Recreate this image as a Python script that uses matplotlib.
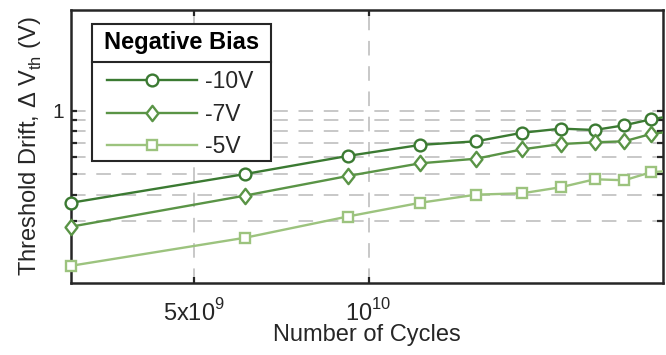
import numpy as np
import matplotlib
matplotlib.use("Agg")
import matplotlib.pyplot as plt
import matplotlib._mathtext as mathtext_impl
from matplotlib.lines import Line2D
from matplotlib.patches import Rectangle
from matplotlib.path import Path
from matplotlib.ticker import FixedLocator, FixedFormatter, NullLocator

plt.rcParams["font.family"] = ["Liberation Sans", "DejaVu Sans"]
plt.rcParams["mathtext.fontset"] = "custom"
plt.rcParams["mathtext.rm"] = "Liberation Sans"
plt.rcParams["mathtext.it"] = "Liberation Sans:italic"
plt.rcParams["mathtext.bf"] = "Liberation Sans:bold"
plt.rcParams["mathtext.default"] = "regular"

# Raise superscripts / drop subscripts a little more, TeX-label style
_fc = getattr(mathtext_impl, "FontConstantsBase", None)
if _fc is not None:
    if hasattr(_fc, "sup1"):
        _fc.sup1 = 0.9
    if hasattr(_fc, "sub1"):
        _fc.sub1 = 0.45

# Stress cycles and measured threshold-voltage drift (V)
cycles = [3.07e9, 6.13e9, 9.20e9, 1.227e10, 1.533e10, 1.840e10,
          2.147e10, 2.453e10, 2.760e10, 3.067e10, 3.373e10]
drift_10v = [0.366, 0.501, 0.610, 0.688, 0.716, 0.786, 0.822, 0.810, 0.853, 0.910, 0.950]
drift_7v = [0.282, 0.396, 0.490, 0.563, 0.592, 0.656, 0.695, 0.708, 0.716, 0.776, 0.800]
drift_5v = [0.184, 0.250, 0.315, 0.366, 0.400, 0.406, 0.434, 0.473, 0.468, 0.511, 0.520]
series_labels = ["-10V", "-7V", "-5V"]
legend_title = "Negative Bias"

x_ticks = [5e9, 1e10]
x_tick_labels = ["5x10$^{9}$", "10$^{10}$"]
y_ticks = [0.3, 0.4, 0.5, 0.6, 0.7, 0.8, 0.9, 1.0]
y_tick_labels = ["", "", "", "", "", "", "", "1"]

W, H = 666, 355
TEXT = "#262626"

fig = plt.figure(figsize=(W / 100, H / 100), dpi=100)
ax = fig.add_axes([71 / W, 1 - 283.3 / H, (663.3 - 71) / W, (283.3 - 10) / H])
ax.set_xscale("log")
ax.set_yscale("log")
ax.set_xlim(3.07e9, 3.22e10)
ax.set_ylim(0.152, 3.0)

diamond = Path([(0, 1), (0.78, 0), (0, -1), (-0.78, 0), (0, 1)],
               [Path.MOVETO, Path.LINETO, Path.LINETO, Path.LINETO, Path.CLOSEPOLY])

styles = [
    (drift_10v, "#3b7a32", "o", 8.5),
    (drift_7v, "#5a9446", diamond, 11),
    (drift_5v, "#9cc37e", "s", 7.0),
]

x = np.array(cycles)
inside = x <= ax.get_xlim()[1]
handles = []
for (vals, color, marker, ms), label in zip(styles, series_labels):
    y = np.array(vals)
    ax.plot(x, y, color=color, lw=1.7, zorder=3)
    ax.plot(x[inside], y[inside], linestyle="none", marker=marker, ms=ms,
            mfc="white", mec=color, mew=1.7, clip_on=False, zorder=4)
    handles.append(Line2D([], [], color=color, lw=1.7, marker=marker, ms=ms,
                          mfc="white", mec=color, mew=1.7, label=label))

# Axes, ticks and grid
ax.xaxis.set_major_locator(FixedLocator(x_ticks))
ax.xaxis.set_major_formatter(FixedFormatter(x_tick_labels))
ax.xaxis.set_minor_locator(NullLocator())
ax.yaxis.set_major_locator(FixedLocator(y_ticks))
ax.yaxis.set_major_formatter(FixedFormatter(y_tick_labels))
ax.yaxis.set_minor_locator(NullLocator())

ax.set_axisbelow(True)
ax.grid(True, which="major", color="#c8c8c8", lw=1.4, linestyle=(0, (7.5, 5.5)))

ax.tick_params(axis="both", which="major", direction="in", length=4.5, width=1.6,
               color=TEXT, labelcolor=TEXT, top=True, right=True)
ax.tick_params(axis="x", labelsize=17, pad=11)
ax.tick_params(axis="y", labelsize=15, pad=5)
for s in ax.spines.values():
    s.set_linewidth(1.8)
    s.set_color(TEXT)

ax.set_xlabel("Number of Cycles", fontsize=17, color=TEXT)
ax.xaxis.set_label_coords(0.5, -0.148)
ax.set_ylabel("Threshold Drift, Δ V$_{th}$ (V)", fontsize=17, color=TEXT)
ax.yaxis.set_label_coords(-0.045, 0.5)

# Legend: framed box with a titled header
frame = Rectangle((92 / W, 1 - 161 / H), (271 - 92) / W, (161 - 24.3) / H,
                  transform=fig.transFigure, facecolor="white", edgecolor=TEXT,
                  lw=1.5, zorder=5, clip_on=False)
ax.add_artist(frame)
divider = Line2D([92 / W, 271 / W], [1 - 62 / H, 1 - 62 / H], transform=fig.transFigure,
                 color=TEXT, lw=1.5, zorder=6, clip_on=False)
ax.add_artist(divider)
ax.text(181.5 / W, 1 - 42.5 / H, legend_title, transform=fig.transFigure,
        ha="center", va="center", fontsize=17, fontweight="bold", color="black",
        zorder=6, clip_on=False)

leg = ax.legend(handles=handles, loc="center left",
                bbox_to_anchor=(106.7 / W, 1 - 114.3 / H), bbox_transform=fig.transFigure,
                frameon=False, fontsize=16.5, borderpad=0, borderaxespad=0,
                handlelength=3.95, handletextpad=0.36, labelspacing=0.42,
                numpoints=1, labelcolor=TEXT)
leg.set_zorder(7)

fig.savefig("out.png", dpi=100)
